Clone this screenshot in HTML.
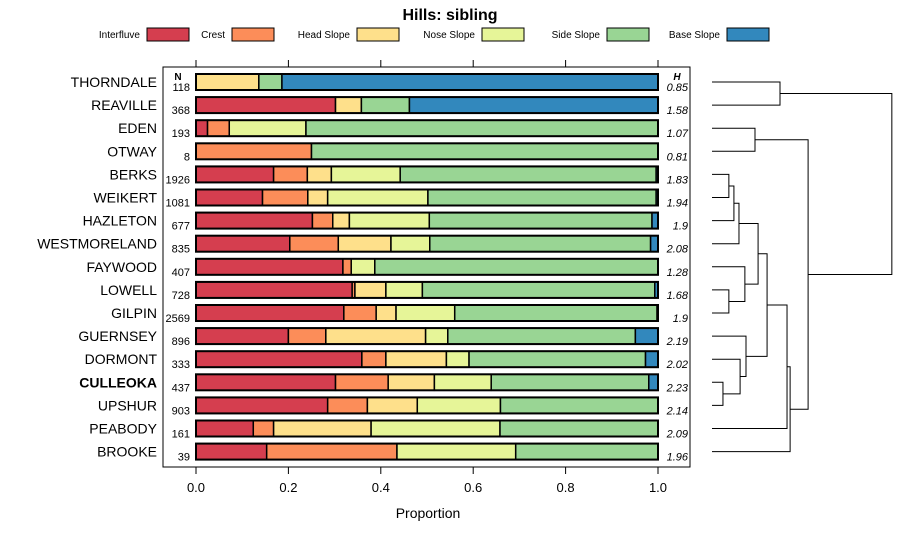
<!DOCTYPE html>
<html><head><meta charset="utf-8"><style>
body{margin:0;background:#fff}
svg{display:block;font-family:"Liberation Sans",sans-serif}
</style></head><body>
<svg id="c" width="900" height="540" viewBox="0 0 900 540">
<text x="450" y="20" text-anchor="middle" font-size="16" font-weight="bold">Hills: sibling</text>
<g id="legend"></g>
<rect x="163" y="67" width="527" height="400" fill="none" stroke="#000" stroke-width="1"/>
<g id="bars"></g>
<g id="axis"></g>
<g id="dendro" stroke="#000" stroke-width="1" fill="none"></g>
<text x="428" y="518" text-anchor="middle" font-size="14">Proportion</text>
<text x="178" y="80" text-anchor="middle" font-size="10" font-weight="bold">N</text>
<text x="677" y="80" text-anchor="middle" font-size="10" font-weight="bold" font-style="italic">H</text>
</svg>
<script>
const series = ["Interfluve","Crest","Head Slope","Nose Slope","Side Slope","Base Slope"];
const colors = ["#D53E4F","#FC8D59","#FEE08B","#E6F598","#99D594","#3288BD"];
const categories = ["THORNDALE","REAVILLE","EDEN","OTWAY","BERKS","WEIKERT","HAZLETON","WESTMORELAND","FAYWOOD","LOWELL","GILPIN","GUERNSEY","DORMONT","CULLEOKA","UPSHUR","PEABODY","BROOKE"];
const nValues = [118,368,193,8,1926,1081,677,835,407,728,2569,896,333,437,903,161,39];
const hValues = ["0.85","1.58","1.07","0.81","1.83","1.94","1.9","2.08","1.28","1.68","1.9","2.19","2.02","2.23","2.14","2.09","1.96"];
const interfluve = [0,.302,.025,0,.168,.144,.252,.203,.318,.338,.32,.2,.359,.302,.285,.124,.153];
const crest      = [0,0,.047,.25,.073,.098,.044,.105,.018,.006,.07,.081,.052,.114,.086,.044,.282];
const headSlope  = [.136,.056,0,0,.052,.043,.036,.114,0,.067,.043,.216,.131,.1,.108,.211,0];
const noseSlope  = [0,0,.166,0,.149,.217,.173,.084,.051,.079,.127,.048,.049,.123,.18,.279,.257];
const sideSlope  = [.05,.104,.762,.75,.554,.494,.482,.478,.613,.503,.438,.406,.382,.341,.341,.342,.308];
const baseSlope  = [.814,.538,0,0,.004,.004,.013,.016,0,.007,.002,.049,.027,.02,0,0,0];
const ticks = [0,0.2,0.4,0.6,0.8,1.0];
const tickLabels = ["0.0","0.2","0.4","0.6","0.8","1.0"];
const merges = [
 [0,1,0.242],[2,3,0.153],[4,5,0.06],[100+2,6,0.078],[100+3,7,0.096],
 [9,10,0.06],[8,100+5,0.117],[100+4,100+6,0.164],[13,14,0.039],[12,100+8,0.10],
 [11,100+9,0.121],[100+7,100+10,0.196],[100+11,15,0.267],[100+12,16,0.278],[100+1,100+13,0.342],[100+0,100+14,0.64]
];
const NS="http://www.w3.org/2000/svg";
const x = v => 196 + v*462;
const y = i => 82 + i*23.1;
const dx = h => 712 + h*281;
function mk(t,p,a){const e=document.createElementNS(NS,t);for(const k in a)e.setAttribute(k,a[k]);p.appendChild(e);return e;}
const all=[interfluve,crest,headSlope,noseSlope,sideSlope,baseSlope];
const bars=document.getElementById('bars');
categories.forEach((c,i)=>{
  let cum=0;
  all.forEach((s,j)=>{
    const v=s[i]; if(v<=0)return;
    const r=mk('rect',bars,{x:x(cum),y:y(i)-8,width:x(cum+v)-x(cum),height:16,fill:colors[j],stroke:'#000','stroke-width':1.5});
    
    
    cum+=v;
  });
  const o=mk('rect',bars,{x:x(0),y:y(i)-8,width:x(1)-x(0),height:16,fill:'none',stroke:'#000','stroke-width':2});
  
  
  const t=mk('text',bars,{x:157,y:y(i)+5,'text-anchor':'end','font-size':14,'font-weight':c==='CULLEOKA'?'bold':'normal'});
  t.textContent=c;
  
  
  const n=mk('text',bars,{x:190,y:y(i)+9,'text-anchor':'end','font-size':11});
  n.textContent=nValues[i];
  
  
  const h=mk('text',bars,{x:688,y:y(i)+9,'text-anchor':'end','font-size':11,'font-style':'italic'});
  h.textContent=hValues[i];
  
  
});
const ax=document.getElementById('axis');
ticks.forEach((t,i)=>{
  const l=mk('line',ax,{x1:x(t),x2:x(t),y1:467,y2:474,stroke:'#000'});
  
  
  const l2=mk('line',ax,{x1:x(t),x2:x(t),y1:60,y2:67,stroke:'#000'});
  
  
  const tx=mk('text',ax,{x:x(t),y:492,'text-anchor':'middle','font-size':13});
  tx.textContent=tickLabels[i];
  
  
});
const lg=document.getElementById('legend');
const legX=[140,225,350,475,600,720];
series.forEach((s,j)=>{
  const t=mk('text',lg,{x:legX[j],y:38,'text-anchor':'end','font-size':10});
  t.textContent=s;
  
  
  const r=mk('rect',lg,{x:legX[j]+7,y:28,width:42,height:13,fill:colors[j],stroke:'#000'});
  
  
});
const dg=document.getElementById('dendro');
const nodeY={},nodeH={};
function pos(k){return k>=100?{y:nodeY[k],h:nodeH[k]}:{y:y(k),h:0};}
merges.forEach((m,idx)=>{
  const a=pos(m[0]),b=pos(m[1]);
  const p=mk('path',dg,{d:`M${dx(a.h)},${a.y}H${dx(m[2])}V${b.y}H${dx(b.h)}`});
  
  
  nodeY[100+idx]=(a.y+b.y)/2; nodeH[100+idx]=m[2];
});
</script>
</body></html>
